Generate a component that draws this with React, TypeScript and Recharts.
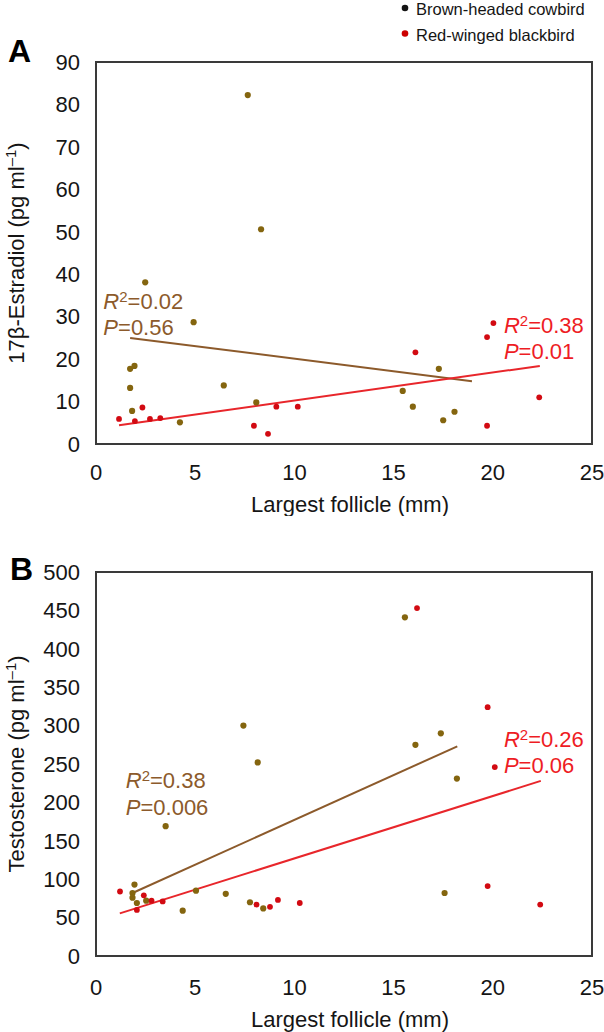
import React from 'react';
import {
  ScatterChart,
  Scatter,
  XAxis,
  YAxis,
  ReferenceArea,
  ReferenceLine,
  ReferenceDot,
  Legend,
  Label,
} from 'recharts';

const FONT = '"Liberation Sans", Arial, Helvetica, sans-serif';
const INK = '#151515';
const FRAME = '#3a3a3a';
const COWBIRD_DOT = '#84650f';
const BLACKBIRD_DOT = '#d20a12';
const COWBIRD_LINE = '#8c5a2b';
const BLACKBIRD_LINE = '#e8262b';
const BLACKBIRD_TEXT = '#ee1c24';

// Axis ticks
const follicleTicks = [0, 5, 10, 15, 20, 25];
const estradiolTicks = [0, 10, 20, 30, 40, 50, 60, 70, 80, 90];
const testosteroneTicks = [0, 50, 100, 150, 200, 250, 300, 350, 400, 450, 500];

// Legend
const speciesNames = ['Brown-headed cowbird', 'Red-winged blackbird'];
const legendDotColors = ['#141414', '#cc0000'];

// Panel A: 17β-estradiol (pg/ml) vs largest follicle (mm)
const estradiolCowbird: [number, number][] = [
  [2.48, 38.1], [4.92, 28.7], [1.72, 17.7], [1.94, 18.4], [1.72, 13.2], [1.82, 7.8],
  [4.23, 5.1], [6.44, 13.8], [8.08, 9.8], [15.46, 12.5], [15.97, 8.8], [17.28, 17.7],
  [17.5, 5.6], [18.07, 7.6], [7.65, 82.2], [8.32, 50.6],
];
const estradiolBlackbird: [number, number][] = [
  [1.16, 5.9], [1.96, 5.4], [2.34, 8.6], [2.72, 5.9], [3.24, 6.1], [7.96, 4.3],
  [8.67, 2.4], [9.09, 8.8], [10.17, 8.8], [16.1, 21.6], [19.71, 25.2], [20.03, 28.5],
  [19.71, 4.3], [22.34, 11.0],
];
const estradiolCowbirdFit: [number, number][] = [[1.72, 25.0], [18.95, 14.8]];
const estradiolBlackbirdFit: [number, number][] = [[1.16, 4.4], [22.37, 18.4]];
const estradiolCowbirdStats = ['0.02', '0.56'];
const estradiolBlackbirdStats = ['0.38', '0.01'];

// Panel B: testosterone (pg/ml) vs largest follicle (mm)
const testosteroneCowbird: [number, number][] = [
  [7.43, 300], [8.15, 252], [16.1, 275], [17.38, 290], [18.19, 231], [3.51, 169],
  [1.94, 93], [1.84, 82], [1.84, 76], [2.06, 69], [2.53, 72], [4.37, 59],
  [5.04, 85], [6.54, 81], [7.76, 70], [8.43, 62], [17.57, 82], [15.57, 441],
];
const testosteroneBlackbird: [number, number][] = [
  [19.74, 324], [20.1, 246], [19.74, 91], [22.39, 67], [1.21, 84], [2.41, 79],
  [2.06, 60], [2.8, 72], [3.36, 71], [8.09, 67], [8.77, 64], [9.17, 73],
  [10.27, 69], [16.18, 453],
];
const testosteroneCowbirdFit: [number, number][] = [[1.84, 82], [18.21, 273]];
const testosteroneBlackbirdFit: [number, number][] = [[1.2, 55.5], [22.42, 228]];
const testosteroneCowbirdStats = ['0.38', '0.006'];
const testosteroneBlackbirdStats = ['0.26', '0.06'];

const toPoints = (rows: [number, number][]) => rows.map(([x, y]) => ({ x, y }));
const toSegment = (rows: [number, number][]) => rows.map(([x, y]) => ({ x, y }));

const dot = (color: string, r: number) => (p: any) => (
  <circle cx={p.cx} cy={p.cy} r={r} fill={color} />
);

// R² / P annotation anchored at the left end of its first baseline
const statsShape = (stats: string[], color: string, gap: number) => (p: any) => (
  <text x={p.cx} y={p.cy} fill={color} fontSize={22} fontFamily={FONT}>
    <tspan fontStyle="italic">R</tspan>
    <tspan dy={-7} fontSize={15}>2</tspan>
    <tspan dy={7}>={stats[0]}</tspan>
    <tspan x={p.cx} dy={gap} fontStyle="italic">P</tspan>
    <tspan>={stats[1]}</tspan>
  </text>
);

const yTitle = (main: string) => (props: any) => {
  const vb = props.viewBox || { x: 36, y: 0, width: 60, height: 0 };
  const cx = vb.x - 12;
  const cy = vb.y + vb.height / 2;
  return (
    <text
      x={cx}
      y={cy}
      transform={`rotate(-90, ${cx}, ${cy})`}
      textAnchor="middle"
      fontSize={22}
      fontFamily={FONT}
      fill={INK}
    >
      <tspan>{main} (pg ml</tspan>
      <tspan dy={-8} fontSize={15}>–1</tspan>
      <tspan dy={8}>)</tspan>
    </text>
  );
};

const xTitle = (baseline: number) => (props: any) => {
  const vb = props.viewBox || { x: 96, y: 0, width: 496, height: 30 };
  return (
    <text
      x={vb.x + vb.width / 2 + 6}
      y={vb.y + baseline}
      textAnchor="middle"
      fontSize={22}
      fontFamily={FONT}
      fill={INK}
    >
      Largest follicle (mm)
    </text>
  );
};

const SpeciesLegend = () => (
  <svg width={208} height={48}>
    {speciesNames.map((name, i) => (
      <g key={name}>
        <circle cx={9} cy={8 + i * 25.5} r={3.3} fill={legendDotColors[i]} />
        <text x={20} y={15 + i * 25.5} fontSize={16.5} fontFamily={FONT} fill={INK}>
          {name}
        </text>
      </g>
    ))}
  </svg>
);

const tickStyle = { fontSize: 22, fontFamily: FONT, fill: INK };

interface PanelProps {
  top: number;
  marginTop: number;
  marginBottom: number;
  yMax: number;
  yTicks: number[];
  yLabel: string;
  xTickMargin: number;
  xTitleBaseline: number;
  cowbird: [number, number][];
  blackbird: [number, number][];
  cowbirdFit: [number, number][];
  blackbirdFit: [number, number][];
  cowbirdStats: string[];
  blackbirdStats: string[];
  cowbirdStatsAt: [number, number];
  blackbirdStatsAt: [number, number];
  cowbirdGap: number;
  blackbirdGap: number;
  withLegend?: boolean;
}

const Panel = (p: PanelProps) => (
  <div style={{ position: 'absolute', left: 0, top: p.top }}>
    <ScatterChart
      width={604}
      height={516}
      margin={{ top: p.marginTop, right: 12, bottom: p.marginBottom, left: 36 }}
    >
      <XAxis
        type="number"
        dataKey="x"
        domain={[0, 25]}
        ticks={follicleTicks}
        interval={0}
        tickLine={false}
        axisLine={false}
        tickSize={0}
        tickMargin={p.xTickMargin}
        tick={tickStyle}
        height={30}
        allowDataOverflow
      >
        <Label content={xTitle(p.xTitleBaseline)} />
      </XAxis>
      <YAxis
        type="number"
        dataKey="y"
        domain={[0, p.yMax]}
        ticks={p.yTicks}
        interval={0}
        tickLine={false}
        axisLine={false}
        tickSize={0}
        tickMargin={16}
        tick={tickStyle}
        width={60}
        allowDataOverflow
      >
        <Label content={yTitle(p.yLabel)} />
      </YAxis>
      <ReferenceArea
        x1={0}
        x2={25}
        y1={0}
        y2={p.yMax}
        fill="none"
        stroke={FRAME}
        strokeWidth={2}
        ifOverflow="visible"
      />
      <ReferenceLine
        segment={toSegment(p.cowbirdFit)}
        stroke={COWBIRD_LINE}
        strokeWidth={2}
        ifOverflow="visible"
      />
      <ReferenceLine
        segment={toSegment(p.blackbirdFit)}
        stroke={BLACKBIRD_LINE}
        strokeWidth={2}
        ifOverflow="visible"
      />
      <Scatter
        name={speciesNames[0]}
        data={toPoints(p.cowbird)}
        fill={COWBIRD_DOT}
        shape={dot(COWBIRD_DOT, 3.1)}
        isAnimationActive={false}
      />
      <Scatter
        name={speciesNames[1]}
        data={toPoints(p.blackbird)}
        fill={BLACKBIRD_DOT}
        shape={dot(BLACKBIRD_DOT, 2.9)}
        isAnimationActive={false}
      />
      <ReferenceDot
        x={p.cowbirdStatsAt[0]}
        y={p.cowbirdStatsAt[1]}
        r={1}
        ifOverflow="visible"
        shape={statsShape(p.cowbirdStats, COWBIRD_LINE, p.cowbirdGap)}
      />
      <ReferenceDot
        x={p.blackbirdStatsAt[0]}
        y={p.blackbirdStatsAt[1]}
        r={1}
        ifOverflow="visible"
        shape={statsShape(p.blackbirdStats, BLACKBIRD_TEXT, p.blackbirdGap)}
      />
      {p.withLegend && (
        <Legend
          layout="horizontal"
          verticalAlign="middle"
          align="center"
          content={() => <SpeciesLegend />}
          wrapperStyle={{ position: 'absolute', left: 396, top: 0, width: 208, height: 48 }}
        />
      )}
    </ScatterChart>
  </div>
);

export default function App() {
  return (
    <div
      style={{
        position: 'absolute',
        left: 0,
        top: 0,
        width: 604,
        height: 1032,
        background: '#ffffff',
        fontFamily: FONT,
        overflow: 'hidden',
      }}
    >
      <Panel
        top={0}
        marginTop={62}
        marginBottom={42}
        yMax={90}
        yTicks={estradiolTicks}
        yLabel="17β-Estradiol"
        xTickMargin={20}
        xTitleBaseline={68}
        cowbird={estradiolCowbird}
        blackbird={estradiolBlackbird}
        cowbirdFit={estradiolCowbirdFit}
        blackbirdFit={estradiolBlackbirdFit}
        cowbirdStats={estradiolCowbirdStats}
        blackbirdStats={estradiolBlackbirdStats}
        cowbirdStatsAt={[0.37, 31.8]}
        blackbirdStatsAt={[20.56, 26.2]}
        cowbirdGap={26}
        blackbirdGap={26}
        withLegend
      />
      <Panel
        top={516}
        marginTop={56}
        marginBottom={46}
        yMax={500}
        yTicks={testosteroneTicks}
        yLabel="Testosterone"
        xTickMargin={23}
        xTitleBaseline={71}
        cowbird={testosteroneCowbird}
        blackbird={testosteroneBlackbird}
        cowbirdFit={testosteroneCowbirdFit}
        blackbirdFit={testosteroneBlackbirdFit}
        cowbirdStats={testosteroneCowbirdStats}
        blackbirdStats={testosteroneBlackbirdStats}
        cowbirdStatsAt={[1.5, 219]}
        blackbirdStatsAt={[20.56, 272]}
        cowbirdGap={27}
        blackbirdGap={26}
      />
      <svg
        width={604}
        height={1032}
        style={{ position: 'absolute', left: 0, top: 0, pointerEvents: 'none' }}
      >
        <text x={8} y={62} fontSize={32} fontWeight="bold" fontFamily={FONT} fill="#000">
          A
        </text>
        <text x={10} y={580} fontSize={32} fontWeight="bold" fontFamily={FONT} fill="#000">
          B
        </text>
      </svg>
    </div>
  );
}
